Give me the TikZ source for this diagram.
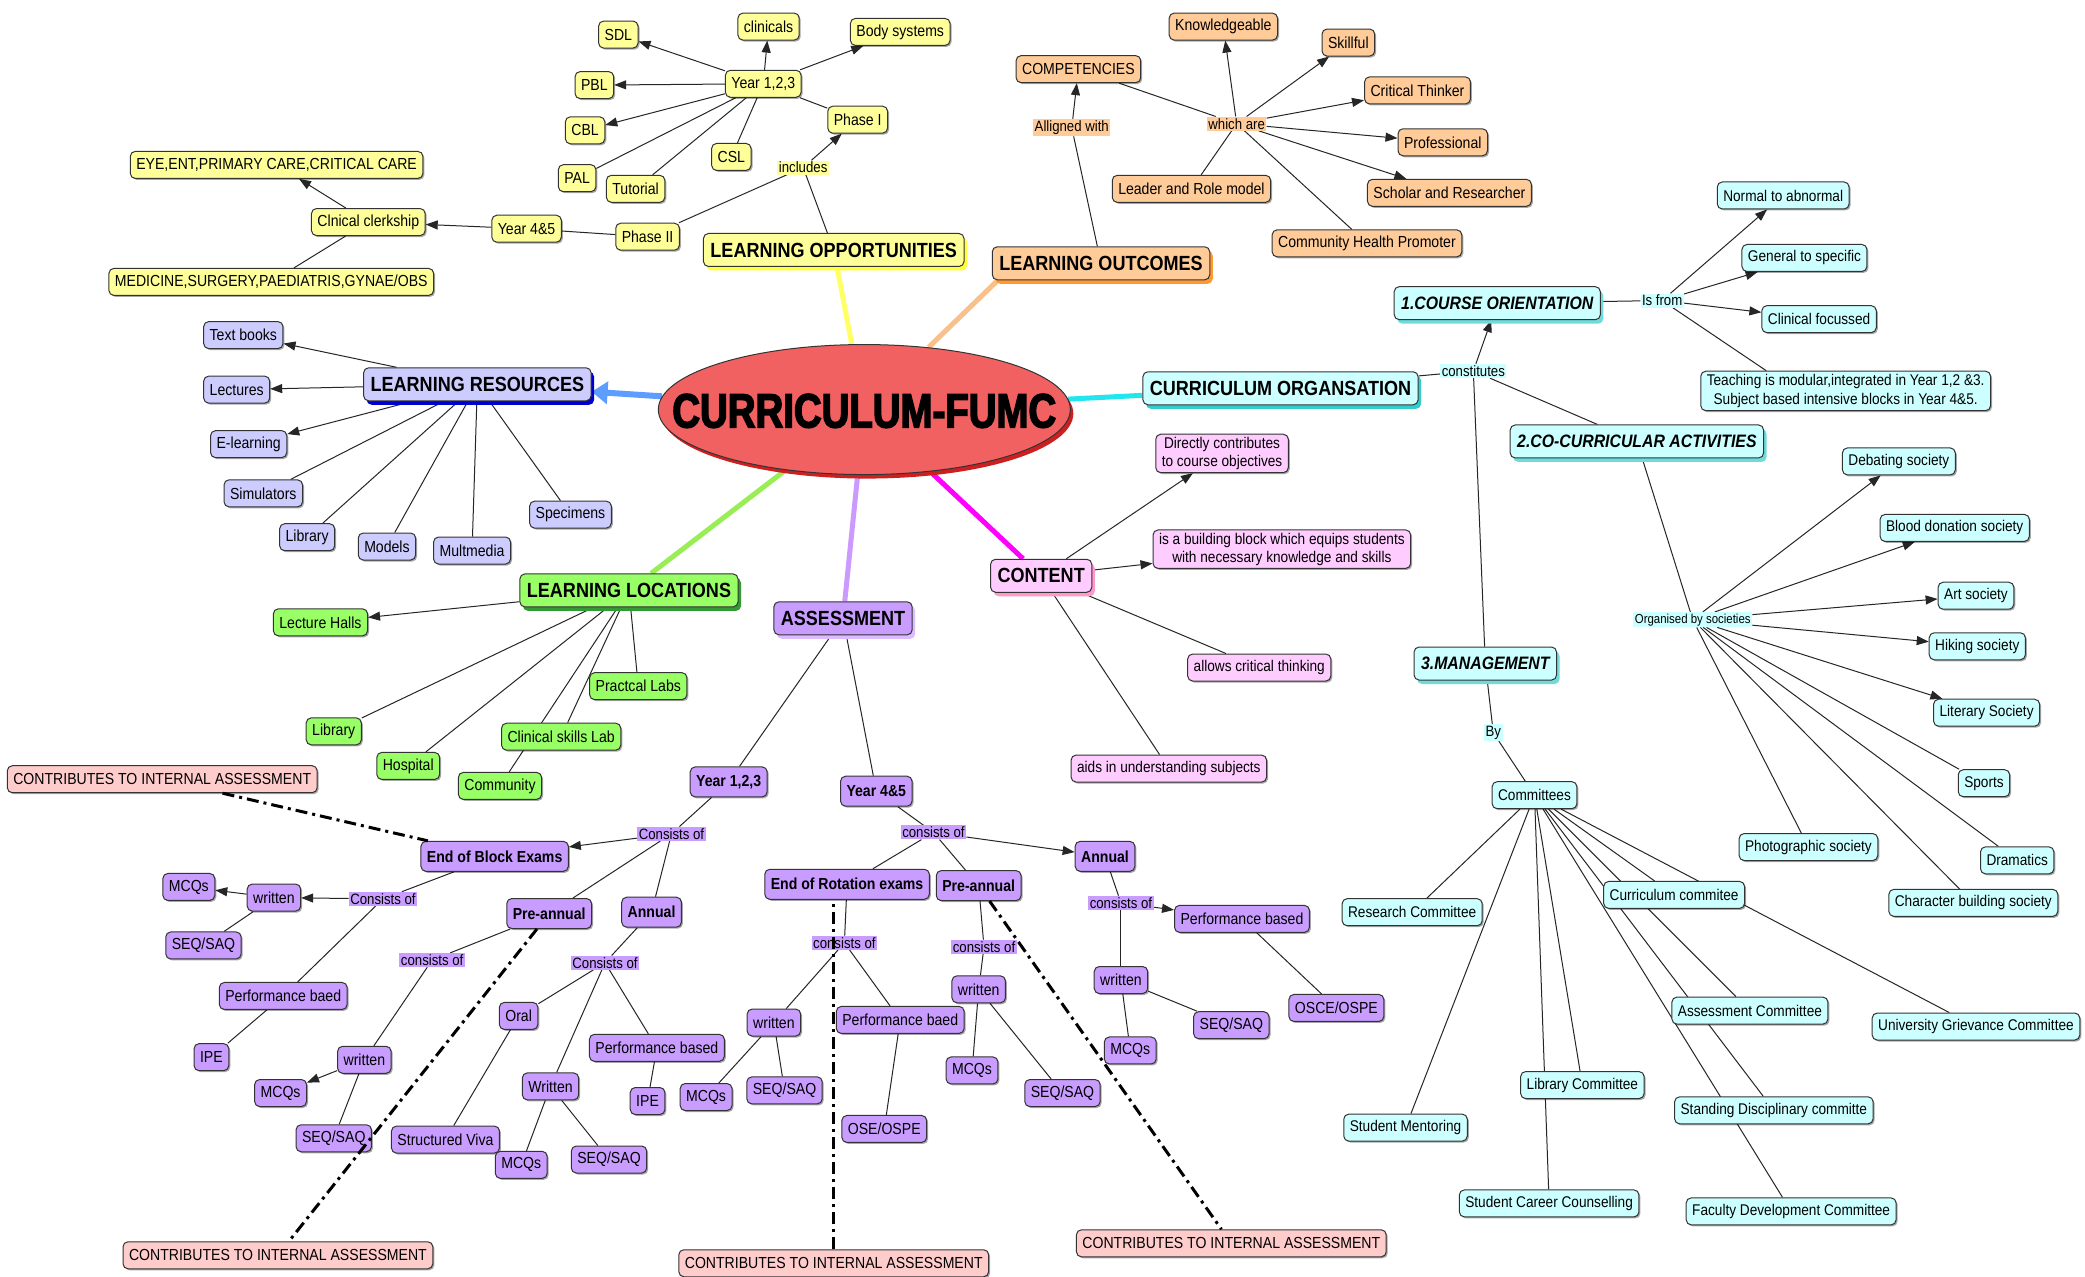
\documentclass[tikz,border=0pt]{standalone}
\usepackage{fontspec}
\setmainfont{Liberation Sans}[FakeStretch=0.88]
\newfontfamily\heavyfont{Liberation Sans}[FakeStretch=0.8,FakeBold=3]
\usetikzlibrary{shapes.geometric,arrows.meta,shadows}
\pgfdeclarelayer{bg}
\pgfsetlayers{bg,main}
\definecolor{cYel}{HTML}{FFFF99}\definecolor{cYelS}{HTML}{FFFF33}\definecolor{cYelL}{HTML}{FFFF66}
\definecolor{cOra}{HTML}{FFCC99}\definecolor{cOraS}{HTML}{FF9933}\definecolor{cOraL}{HTML}{F8C08A}
\definecolor{cCya}{HTML}{CCFFFF}\definecolor{cCyaS}{HTML}{33CCCC}\definecolor{cCyaL}{HTML}{22E5EE}
\definecolor{cPin}{HTML}{FFCCFF}\definecolor{cPinS}{HTML}{FF99CC}\definecolor{cPinL}{HTML}{FF00FF}
\definecolor{cBlu}{HTML}{CCCCFF}\definecolor{cBluS}{HTML}{0000CC}\definecolor{cBluL}{HTML}{5C9DFF}
\definecolor{cGre}{HTML}{99FF66}\definecolor{cGreS}{HTML}{339933}\definecolor{cGreL}{HTML}{99EE55}
\definecolor{cPur}{HTML}{C89DFF}\definecolor{cPurS}{HTML}{DDBBFF}\definecolor{cPurL}{HTML}{CC99FF}
\definecolor{cCon}{HTML}{FFCCCC}
\definecolor{cRed}{HTML}{F26161}\definecolor{cRedS}{HTML}{CC2020}
\begin{document}
\begin{tikzpicture}[x=1.3297pt,y=-1.3297pt,
  box/.style={draw=black!80, rounded corners=5pt, line width=1pt, inner xsep=6pt, inner ysep=3pt,
    minimum height=27pt, font=\fontsize{16}{18}\selectfont,
    drop shadow={shadow xshift=1.5pt,shadow yshift=-1.5pt,fill=black,opacity=0.35}},
  yb/.style={box, fill=cYel},
  ob/.style={box, fill=cOra},
  cb/.style={box, fill=cCya, font=\fontsize{15.5}{17}\selectfont},
  pb/.style={box, fill=cPin, font=\fontsize{15.5}{17}\selectfont},
  bb/.style={box, fill=cBlu},
  gb/.style={box, fill=cGre},
  vb/.style={box, fill=cPur},
  vbb/.style={box, fill=cPur, font=\fontsize{16}{18}\selectfont\bfseries, minimum height=30pt},
  rb/.style={box, fill=cCon},
  head/.style={draw=black!80, rounded corners=5pt, line width=1pt, inner xsep=7pt, inner ysep=3pt,
    minimum height=33pt, font=\fontsize{20.5}{22}\selectfont\bfseries},
  hsh/.style={drop shadow={shadow xshift=3pt,shadow yshift=-4pt,fill=#1,opacity=1}},
  chead/.style={head, fill=cCya, font=\fontsize{18}{20}\selectfont\bfseries\itshape, hsh=cCyaS!70},
  lab/.style={inner sep=1.5pt, font=\fontsize{15}{16}\selectfont},
  ln/.style={line width=1pt, black!85},
  ar/.style={ln, -{Triangle[length=12pt,width=9pt]}},
  thick5/.style={line width=5pt},
  dd/.style={line width=3pt, dash pattern=on 12pt off 5pt on 3pt off 5pt}
]
\useasboundingbox (0,0) rectangle (1568,960);

% ---------- central
\node[ellipse, draw=black!80, line width=1pt, fill=cRed, inner sep=0pt, minimum width=412pt, minimum height=130pt,
  drop shadow={shadow xshift=3pt,shadow yshift=-4pt,fill=cRedS,opacity=1}] (C) at (650,308) {};
\node[font=\heavyfont\fontsize{48}{50}\selectfont\bfseries, inner sep=0pt] (Ct) at (650,309) {CURRICULUM-FUMC};

% ---------- yellow
\node[head, fill=cYel, hsh=cYelS] (LO) at (627,188) {LEARNING OPPORTUNITIES};
\node[yb] (sdl) at (465,26) {SDL};
\node[yb] (clin) at (578,20) {clinicals};
\node[yb] (body) at (677,24) {Body systems};
\node[yb] (y123a) at (574,63) {Year 1,2,3};
\node[yb] (pbl) at (447,64) {PBL};
\node[yb] (cbl) at (440,98) {CBL};
\node[yb] (ph1) at (645,90) {Phase I};
\node[yb] (csl) at (550,118) {CSL};
\node[yb] (pal) at (434,134) {PAL};
\node[yb] (tut) at (478,142) {Tutorial};
\node[lab, fill=cYel] (incl) at (604,126) {includes};
\node[yb] (ph2) at (487,178) {Phase II};
\node[yb] (y45a) at (396,172) {Year 4\&5};
\node[yb] (clerk) at (277,167) {Clnical clerkship};
\node[yb] (eye) at (208,124) {EYE,ENT,PRIMARY CARE,CRITICAL CARE};
\node[yb] (med) at (204,212) {MEDICINE,SURGERY,PAEDIATRIS,GYNAE/OBS};

% ---------- orange
\node[head, fill=cOra, hsh=cOraS] (LOut) at (828,198) {LEARNING OUTCOMES};
\node[ob] (comp) at (811,52) {COMPETENCIES};
\node[lab, fill=cOra] (alig) at (806,96) {Alligned with};
\node[lab, fill=cOra] (which) at (930,93) {which are};
\node[ob] (know) at (920,20) {Knowledgeable};
\node[ob] (skill) at (1014,32) {Skillful};
\node[ob] (crit) at (1066,68) {Critical Thinker};
\node[ob] (prof) at (1085,107) {Professional};
\node[ob] (schol) at (1090,145) {Scholar and Researcher};
\node[ob] (lead) at (896,142) {Leader and Role model};
\node[ob] (comm) at (1028,183) {Community Health Promoter};

% ---------- cyan
\node[head, fill=cCya, hsh=cCyaS] (CO) at (963,292) {CURRICULUM ORGANSATION};
\node[lab, fill=cCya] (cons) at (1108,279) {constitutes};
\node[chead] (COR) at (1126,228) {1.COURSE ORIENTATION};
\node[lab, fill=cCya] (isfrom) at (1250,226) {Is from};
\node[cb] (norm) at (1341,147) {Normal to abnormal};
\node[cb] (gen) at (1357,194) {General to specific};
\node[cb] (clinf) at (1368,240) {Clinical focussed};
\node[cb, align=center, font=\fontsize{15.5}{19}\selectfont] (teach) at (1388,294) {Teaching is modular,integrated in Year 1,2 \&3.\\Subject based intensive blocks in Year 4\&5.};
\node[chead] (CCA) at (1231,332) {2.CO-CURRICULAR ACTIVITIES};
\node[lab, fill=cCya, font=\fontsize{13}{14}\selectfont] (org) at (1273,466) {Organised by societies};
\node[cb] (deb) at (1428,347) {Debating society};
\node[cb] (blood) at (1470,397) {Blood donation society};
\node[cb] (art) at (1486,448) {Art society};
\node[cb] (hike) at (1487,486) {Hiking society};
\node[cb] (lit) at (1494,536) {Literary Society};
\node[cb] (sports) at (1492,589) {Sports};
\node[cb] (dram) at (1517,647) {Dramatics};
\node[cb] (char) at (1484,679) {Character building society};
\node[cb] (photo) at (1360,637) {Photographic society};
\node[chead] (MAN) at (1117,499) {3.MANAGEMENT};
\node[lab, fill=cCya] (by) at (1123,551) {By};
\node[cb] (cmt) at (1154,598) {Committees};
\node[cb] (res) at (1062,686) {Research Committee};
\node[cb] (curc) at (1259,673) {Curriculum commitee};
\node[cb] (assc) at (1316,760) {Assessment Committee};
\node[cb] (univ) at (1486,772) {University Grievance Committee};
\node[cb] (libc) at (1190,816) {Library Committee};
\node[cb] (stand) at (1334,835) {Standing Disciplinary committe};
\node[cb] (ment) at (1057,848) {Student Mentoring};
\node[cb] (career) at (1165,905) {Student Career Counselling};
\node[cb] (fac) at (1347,911) {Faculty Development Committee};

% ---------- pink
\node[head, fill=cPin, hsh=cPinS] (CONT) at (783,433) {CONTENT};
\node[pb, align=center, font=\fontsize{15.5}{18}\selectfont] (dir) at (919,341) {Directly contributes\\to course objectives};
\node[pb, align=center, font=\fontsize{15.5}{18}\selectfont] (blk) at (964,413) {is a building block which equips students\\with necessary knowledge and skills};
\node[pb] (allow) at (947,502) {allows critical thinking};
\node[pb] (aids) at (879,578) {aids in understanding subjects};

% ---------- blue
\node[head, fill=cBlu, hsh=cBluS] (LR) at (359,289) {LEARNING RESOURCES};
\node[bb] (txt) at (183,252) {Text books};
\node[bb] (lect) at (178,293) {Lectures};
\node[bb] (elear) at (187,334) {E-learning};
\node[bb] (sim) at (198,371) {Simulators};
\node[bb] (libr) at (231,404) {Library};
\node[bb] (mod) at (291,411) {Models};
\node[bb] (mult) at (355,414) {Multmedia};
\node[bb] (spec) at (429,387) {Specimens};

% ---------- green
\node[head, fill=cGre, hsh=cGreS] (LL) at (473,444) {LEARNING LOCATIONS};
\node[gb] (halls) at (241,468) {Lecture Halls};
\node[gb] (plabs) at (480,516) {Practcal Labs};
\node[gb] (glib) at (251,550) {Library};
\node[gb] (csk) at (422,554) {Clinical skills Lab};
\node[gb] (hosp) at (307,576) {Hospital};
\node[gb] (gcom) at (376,591) {Community};

% ---------- purple
\node[head, fill=cPur, hsh=cPurS] (ASM) at (634,465) {ASSESSMENT};
\node[vbb] (py123) at (548,588) {Year 1,2,3};
\node[vbb] (py45) at (659,595) {Year 4\&5};
\node[lab, fill=cPur] (pc1) at (505,627) {Consists of};
\node[vbb] (eob) at (372,644) {End of Block Exams};
\node[vbb] (ppre1) at (413,687) {Pre-annual};
\node[vbb] (pann1) at (490,686) {Annual};
\node[lab, fill=cPur] (pc2) at (288,676) {Consists of};
\node[vb] (pw1) at (206,675) {written};
\node[vb] (pm1) at (142,667) {MCQs};
\node[vb] (ps1) at (153,711) {SEQ/SAQ};
\node[vb] (pperf1) at (213,749) {Performance baed};
\node[vb] (pipe1) at (159,795) {IPE};
\node[lab, fill=cPur] (pc3) at (325,722) {consists of};
\node[vb] (pw2) at (274,797) {written};
\node[vb] (pm2) at (211,822) {MCQs};
\node[vb] (ps2) at (251,856) {SEQ/SAQ};
\node[lab, fill=cPur] (pc4) at (455,724) {Consists of};
\node[vb] (oral) at (390,764) {Oral};
\node[vb] (pperf2) at (494,788) {Performance based};
\node[vb] (pipe2) at (487,828) {IPE};
\node[vb] (pW3) at (414,817) {Written};
\node[vb] (sviva) at (335,857) {Structured Viva};
\node[vb] (pm3) at (392,876) {MCQs};
\node[vb] (ps3) at (458,872) {SEQ/SAQ};
\node[lab, fill=cPur] (pc5) at (702,626) {consists of};
\node[vbb] (eor) at (637,665) {End of Rotation exams};
\node[vbb] (ppre2) at (736,666) {Pre-annual};
\node[vbb] (pann2) at (831,644) {Annual};
\node[lab, fill=cPur] (pc6) at (635,709) {consists of};
\node[vb] (pw4) at (582,769) {written};
\node[vb] (pm4) at (531,825) {MCQs};
\node[vb] (ps4) at (590,820) {SEQ/SAQ};
\node[vb] (pperf3) at (677,767) {Performance baed};
\node[vb] (ose) at (665,849) {OSE/OSPE};
\node[lab, fill=cPur] (pc7) at (740,712) {consists of};
\node[vb] (pw5) at (736,744) {written};
\node[vb] (pm5) at (731,805) {MCQs};
\node[vb] (ps5) at (799,822) {SEQ/SAQ};
\node[lab, fill=cPur] (pc8) at (843,679) {consists of};
\node[vb] (pperf4) at (934,691) {Performance based};
\node[vb] (pw6) at (843,737) {written};
\node[vb] (pm6) at (850,790) {MCQs};
\node[vb] (ps6) at (926,771) {SEQ/SAQ};
\node[vb] (osce) at (1005,758) {OSCE/OSPE};

% ---------- contributes
\node[rb] (ct1) at (122,586) {CONTRIBUTES TO INTERNAL ASSESSMENT};
\node[rb] (ct2) at (209,944) {CONTRIBUTES TO INTERNAL ASSESSMENT};
\node[rb] (ct3) at (627,950) {CONTRIBUTES TO INTERNAL ASSESSMENT};
\node[rb] (ct4) at (926,935) {CONTRIBUTES TO INTERNAL ASSESSMENT};

% ---------- dashed links
\draw[dd] (ct1) -- (eob);
\draw[dd] (ppre1) -- (ct2);
\draw[dd] (ct3.north) -- (ct3.north |- eor.south);
\draw[dd] (ppre2) -- (ct4);

\begin{pgfonlayer}{bg}
\fill[white] (0,0) rectangle (1568,960);
% thick spokes
\draw[thick5, cYelL] (C) -- (LO);
\draw[thick5, cOraL] (C) -- ([xshift=6pt]LOut.south west);
\draw[thick5, cCyaL] (C) -- (CO);
\draw[thick5, cPinL] (C) -- (CONT);
\draw[thick5, cPurL] (C) -- (ASM);
\draw[thick5, cGreL] (C) -- (LL);
\draw[line width=6pt, cBluL, -{Triangle[length=16pt,width=22pt]}] (C) -- (LR);

% yellow
\draw[ln] (LO) -- (incl);
\draw[ar] (incl) -- (ph1);
\draw[ln] (incl) -- (ph2);
\draw[ln] (ph1) -- (y123a);
\foreach \t in {sdl,clin,body,pbl,cbl} \draw[ar] (y123a) -- (\t);
\foreach \t in {pal,tut,csl} \draw[ln] (y123a) -- (\t);
\draw[ln] (ph2) -- (y45a);
\draw[ar] (y45a) -- (clerk);
\draw[ar] (clerk) -- (eye);
\draw[ln] (clerk) -- (med);

% orange
\draw[ln] (LOut) -- (alig);
\draw[ar] (alig) -- (comp);
\draw[ln] (comp) -- (which);
\foreach \t in {know,skill,crit,prof,schol} \draw[ar] (which) -- (\t);
\foreach \t in {lead,comm} \draw[ln] (which) -- (\t);

% cyan
\draw[ln] (CO) -- (cons);
\draw[ar] (cons) -- (COR);
\draw[ln] (cons) -- (CCA);
\draw[ln] (cons) -- (MAN);
\draw[ln] (COR) -- (isfrom);
\foreach \t in {norm,gen,clinf} \draw[ar] (isfrom) -- (\t);
\draw[ln] (isfrom) -- ([xshift=66pt]teach.north west);
\draw[ln] (CCA) -- (org);
\foreach \t in {deb,blood,art,hike,lit} \draw[ar] (org) -- (\t);
\foreach \t in {sports,dram,char,photo} \draw[ln] (org) -- (\t);
\draw[ln] (MAN) -- (by);
\draw[ln] (by) -- (cmt);
\foreach \t in {res,ment,libc,career,curc,assc,stand,fac,univ} \draw[ln] (cmt) -- (\t);

% pink
\draw[ar] (CONT) -- (dir);
\draw[ar] (CONT) -- (blk);
\draw[ln] (CONT) -- (allow);
\draw[ln] (CONT) -- (aids);

% blue
\foreach \t in {txt,lect,elear} \draw[ar] (LR) -- (\t);
\foreach \t in {sim,libr,mod,mult,spec} \draw[ln] (LR) -- (\t);

% green
\draw[ar] (LL) -- (halls);
\foreach \t in {glib,hosp,csk,gcom,plabs} \draw[ln] (LL) -- (\t);

% purple
\draw[ln] (ASM) -- (py123);
\draw[ln] (ASM) -- (py45);
\draw[ln] (py123) -- (pc1);
\draw[ar] (pc1) -- (eob);
\draw[ln] (pc1) -- (ppre1);
\draw[ln] (pc1) -- (pann1);
\draw[ln] (eob) -- (pc2);
\draw[ar] (pc2) -- (pw1);
\draw[ar] (pw1) -- (pm1);
\draw[ln] (pw1) -- (ps1);
\draw[ln] (pc2) -- (pperf1);
\draw[ln] (pperf1) -- (pipe1);
\draw[ln] (ppre1) -- (pc3);
\draw[ln] (pc3) -- (pw2);
\draw[ar] (pw2) -- (pm2);
\draw[ln] (pw2) -- (ps2);
\draw[ln] (pann1) -- (pc4);
\foreach \t in {oral,pW3,pperf2} \draw[ln] (pc4) -- (\t);
\draw[ln] (oral) -- (sviva);
\draw[ln] (pW3) -- (pm3);
\draw[ln] (pW3) -- (ps3);
\draw[ln] (pperf2) -- (pipe2);
\draw[ln] (py45) -- (pc5);
\draw[ar] (pc5) -- (pann2);
\draw[ln] (pc5) -- (eor);
\draw[ln] (pc5) -- (ppre2);
\draw[ln] (eor) -- (pc6);
\draw[ln] (pc6) -- (pw4);
\draw[ln] (pc6) -- (pperf3);
\draw[ln] (pw4) -- (pm4);
\draw[ln] (pw4) -- (ps4);
\draw[ln] (pperf3) -- (ose);
\draw[ln] (ppre2) -- (pc7);
\draw[ln] (pc7) -- (pw5);
\draw[ln] (pw5) -- (pm5);
\draw[ln] (pw5) -- (ps5);
\draw[ln] (pann2) -- (pc8);
\draw[ln] (pc8) -- (pw6);
\draw[ar] (pc8) -- (pperf4);
\draw[ln] (pw6) -- (pm6);
\draw[ln] (pw6) -- (ps6);
\draw[ln] (pperf4) -- (osce);
\end{pgfonlayer}
\end{tikzpicture}
\end{document}
